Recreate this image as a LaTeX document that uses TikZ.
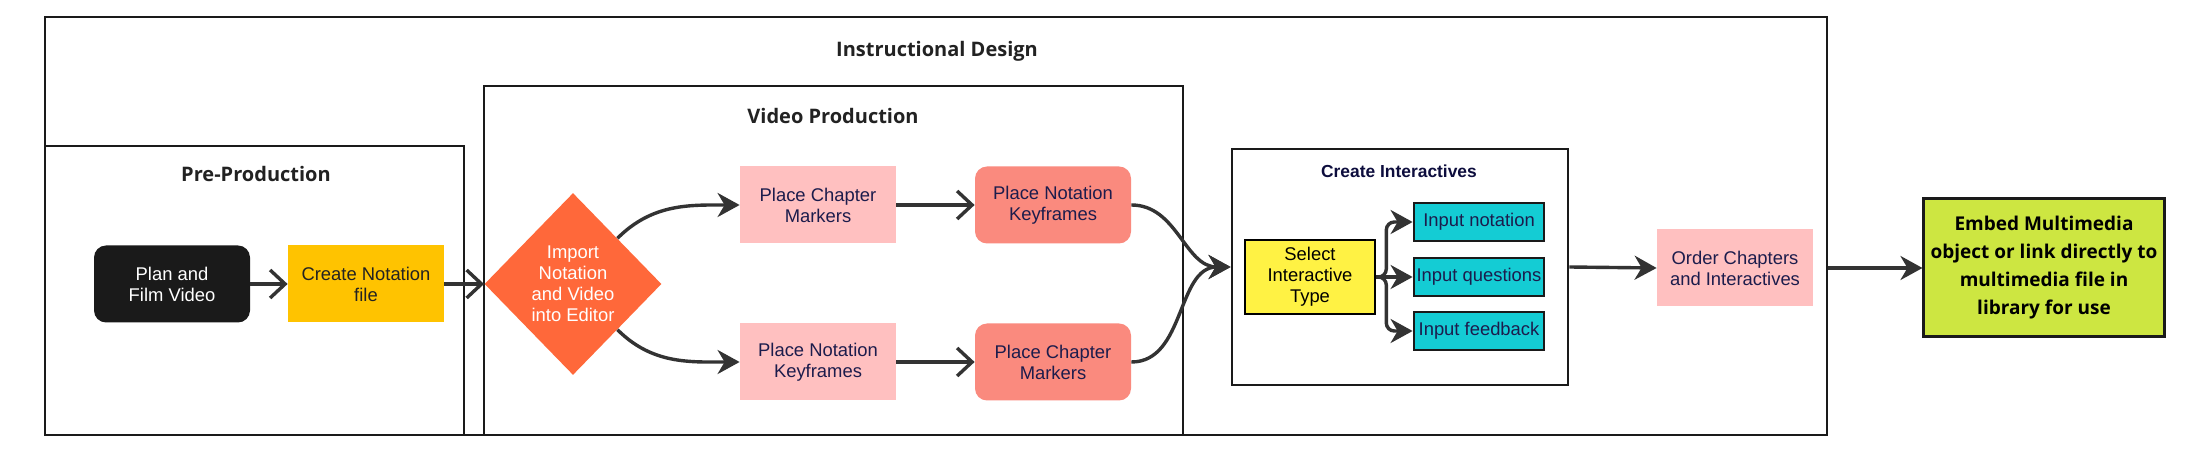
\documentclass[tikz,border=0pt]{standalone}
\usepackage{fontspec}
\setmainfont{Liberation Sans}
\newfontfamily\headfont{Open Sans}
\usepackage{tikz}
\usetikzlibrary{positioning,arrows.meta,fit,shapes.geometric}
\definecolor{framedark}{HTML}{1A1A1A}
\definecolor{titledark}{HTML}{222222}
\definecolor{citext}{HTML}{0D0D3D}
\definecolor{navytext}{HTML}{1C1C4C}
\definecolor{arrowgray}{HTML}{333333}
\definecolor{planblack}{HTML}{1A1A1A}
\definecolor{noteyellow}{HTML}{FFC300}
\definecolor{importred}{HTML}{FF683A}
\definecolor{lightpink}{HTML}{FFC0C0}
\definecolor{salmonred}{HTML}{FA8A7E}
\definecolor{selyellow}{HTML}{FFF244}
\definecolor{inputcyan}{HTML}{14CCD4}
\definecolor{embedgreen}{HTML}{CDE641}
\tikzset{
  figframe/.style={draw=framedark, line width=1.4pt, inner sep=0pt},
  figtitle/.style={font=\headfont\bfseries\fontsize{10}{12}\selectfont, text=titledark},
  figbox/.style={align=center, font=\fontsize{9.2}{10.5}\selectfont,
    minimum width=78pt, minimum height=38.5pt, inner sep=2pt},
  figpink/.style={figbox, fill=lightpink, text=navytext},
  figsalmon/.style={figbox, fill=salmonred, text=navytext, rounded corners=6pt},
  figdiamond/.style={diamond, aspect=1, fill=importred, text=white, align=center,
    font=\fontsize{9.2}{10.5}\selectfont, inner sep=0pt, minimum width=88.5pt, minimum height=91pt},
  figselect/.style={figbox, draw=black, line width=1.3pt, fill=selyellow, text=black,
    minimum width=65pt, minimum height=37pt},
  figinput/.style={figbox, draw=framedark, line width=1.4pt, fill=inputcyan, text=navytext,
    minimum width=65pt, minimum height=19pt, inner sep=1pt},
  figembed/.style={align=center, draw=framedark, line width=1.5pt, fill=embedgreen,
    font=\headfont\bfseries\fontsize{9.5}{14}\selectfont, text=black,
    minimum width=119.5pt, minimum height=69pt},
  figarrow/.style={-{Stealth[length=11pt, width=12pt, inset=3.5pt]}, line width=1.7pt, draw=arrowgray},
  figbarb/.style={-{Straight Barb[length=7.5pt, width=14pt]}, line width=1.7pt, draw=arrowgray},
}

\begin{document}
\begin{tikzpicture}[x=0.5pt, y=-0.5pt]
  \fill[white] (0,0) rectangle (2205,453);
  \useasboundingbox (0,0) rectangle (2205,453);
  % frames
  \node[figframe, fit={(45,17) (1827,435)}] (design) {};
  \node[figtitle] (designtitle) at (937,51) {Instructional Design};
  \node[figframe, fit={(45,146) (464,435)}] (pre) {};
  \node[figtitle] (pretitle) at (256,174) {Pre-Production};
  \node[figframe, fit={(484,86) (1183,435)}] (vid) {};
  \node[figtitle] (vidtitle) at (833,116) {Video Production};
  \node[figframe, fit={(1232,149) (1568,385)}] (ci) {};
  \node[font=\bfseries\fontsize{8.7}{10}\selectfont, text=citext] (cititle) at (1399,171) {Create Interactives};
  % pre-production
  \node[figbox, fill=planblack, text=white, rounded corners=6pt] (plan) at (172,284) {Plan and\\Film Video};
  \node[figbox, fill=noteyellow, text=titledark] (notation) at (366,284) {Create Notation\\file};
  % video production
  \node[figdiamond] (import) at (573,284) {Import\\Notation\\and Video\\into Editor};
  \node[figpink] (chapA) at (818,205) {Place Chapter\\Markers};
  \node[figsalmon] (keyA) at (1053,205) {Place Notation\\Keyframes};
  \node[figpink] (keyB) at (818,362) {Place Notation\\Keyframes};
  \node[figsalmon] (chapB) at (1053,362) {Place Chapter\\Markers};
  % interactives
  \node[figselect] (select) at (1310,277) {Select\\Interactive\\Type};
  \foreach \t/\y [count=\i] in {Input notation/222, Input questions/277, Input feedback/331}
    \node[figinput] (inp\i) at (1479,\y) {\t};
  \node[figpink] (order) at (1735,268) {Order Chapters\\and Interactives};
  \node[figembed] (embed) at (2044,268) {Embed Multimedia\\object or link directly to\\multimedia file in\\library for use};
  % arrows
  \draw[figbarb] (plan) -- (notation);
  \draw[figbarb] (notation) -- (import);
  \draw[figarrow] (import.north east) to[out=45, in=180] (chapA.west);
  \draw[figarrow] (import.south east) to[out=-45, in=180] (keyB.west);
  \draw[figbarb] (chapA) -- (keyA);
  \draw[figbarb] (keyB) -- (chapB);
  \draw[figarrow] (keyA.east) to[out=0, in=180] (ci.west);
  \draw[figarrow] (chapB.east) to[out=0, in=180] (ci.west);
  \foreach \i in {1,3}
    \draw[figarrow, rounded corners=4pt] (select.east) -- ++(10,0) |- (inp\i.west);
  \draw[figarrow] (select.east) -- (inp2.west);
  \draw[figarrow] (ci.east) -- (order.west);
  \draw[figarrow] (design.east |- embed.west) -- (embed.west);
\end{tikzpicture}
\end{document}
